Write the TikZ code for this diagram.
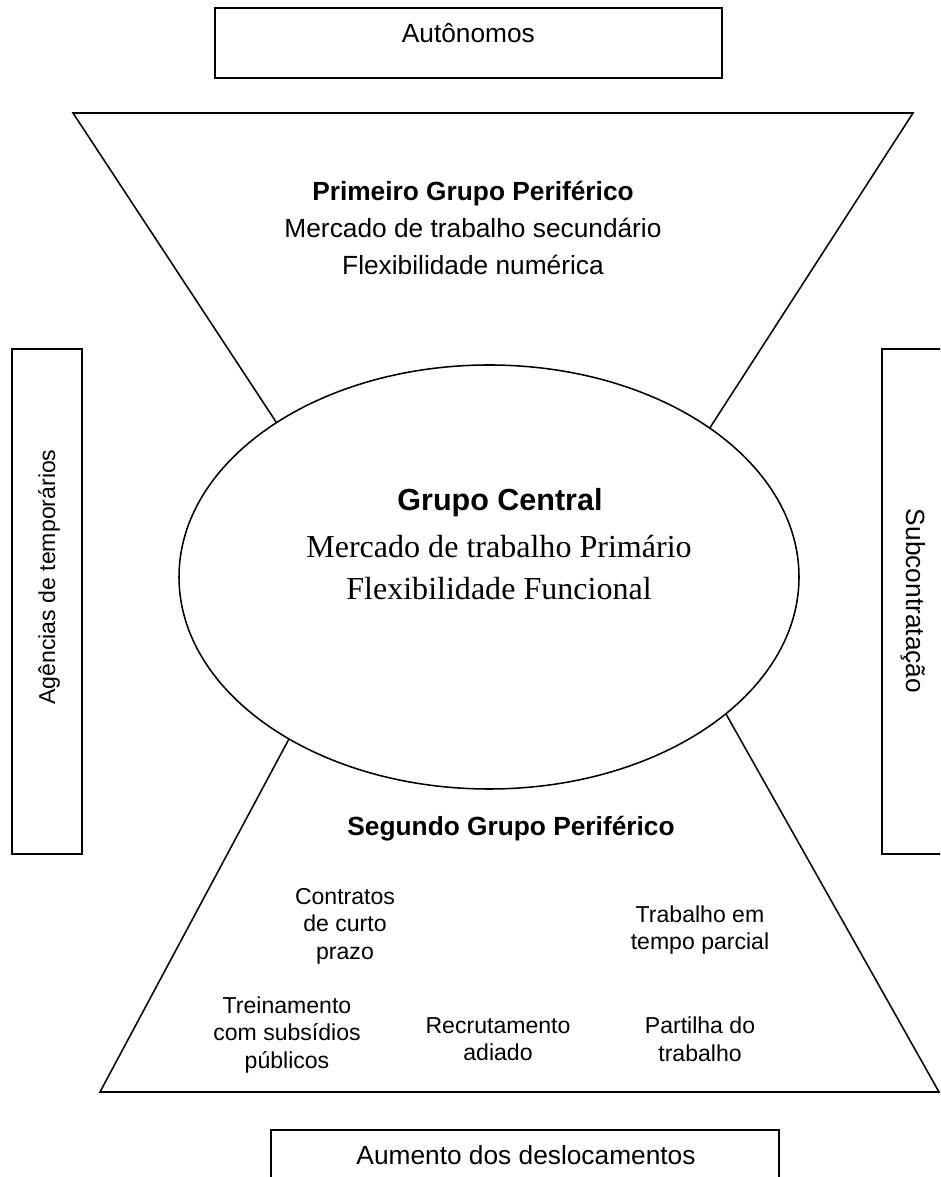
\documentclass[tikz,border=0pt]{standalone}
\usepackage{fontspec}
\setmainfont{Liberation Sans}
\newfontfamily\timesfont{Liberation Serif}
\usepackage{tikz}
\usetikzlibrary{shapes.geometric, positioning}
\tikzset{
  framebox/.style={rectangle, draw=black, line width=1.4pt},
  edge/.style={draw=black, line width=1.1pt},
  bigtext/.style={font=\fontsize{18.7}{26}\selectfont, align=center},
  smalltext/.style={font=\fontsize{16.4}{19.6}\selectfont, align=center},
  coretext/.style={font=\fontsize{22.8}{27}\selectfont\timesfont, align=center}
}

\begin{document}
\begin{tikzpicture}
  \path[use as bounding box, clip] (0, 0) rectangle (23.5, 29.425);

  % Outer boxes
  \draw[framebox] (5.375, 27.475) rectangle (18.05, 29.225);
  \node[bigtext, anchor=base] (auto) at (11.71, 28.35) {Autônomos};

  \draw[framebox] (0.3, 8.075) rectangle (2.05, 20.7);
  \node[smalltext, rotate=90] (agen) at (1.225, 15.0) {Agências de temporários};

  \draw[framebox] (22.05, 8.075) rectangle (24.0, 20.7);
  \node[bigtext, rotate=-90] (subc) at (22.825, 14.4) {Subcontratação};

  \draw[framebox] (6.775, -1.0) rectangle (19.475, 1.175);
  \node[bigtext] (desl) at (13.15, 0.55) {Aumento dos deslocamentos};

  % Central group
  \node[ellipse, draw, line width=1.1pt, inner sep=0pt, outer sep=0pt,
        minimum width=15.5cm, minimum height=10.6cm] (core) at (12.225, 15.0) {};
  \node[font=\fontsize{21.7}{26}\selectfont\bfseries] (central) at (12.5, 16.85) {Grupo Central};
  \node[coretext] (primario) at (12.475, 15.75) {Mercado de trabalho Primário};
  \node[coretext] (funcional) at (12.475, 14.7) {Flexibilidade Funcional};

  % First peripheral group (upper funnel)
  \coordinate (tl) at (1.825, 26.6);
  \coordinate (tr) at (22.825, 26.6);
  \draw[edge] (core.144.6) -- (tl) -- (tr) -- (core.34);
  \node[bigtext] (prim) at (11.825, 23.725)
    {\textbf{Primeiro Grupo Periférico}\\Mercado de trabalho secundário\\Flexibilidade numérica};

  % Second peripheral group (lower funnel)
  \coordinate (bl) at (2.5, 2.125);
  \coordinate (br) at (23.475, 2.125);
  \draw[edge] (core.219.9) -- (bl) -- (br) -- (core.330.7);
  \node[bigtext, font=\fontsize{18.7}{26}\selectfont\bfseries] (segu) at (12.775, 8.7) {Segundo Grupo Periférico};

  \node[smalltext] (curto) at (8.625, 6.275) {Contratos\\de curto\\prazo};
  \node[smalltext] (parc) at (17.5, 6.175) {Trabalho em\\tempo parcial};
  \node[smalltext] (trei) at (7.175, 3.55) {Treinamento\\com subsídios\\públicos};
  \node[smalltext] (recr) at (12.45, 3.45) {Recrutamento\\adiado};
  \node[smalltext] (part) at (17.5, 3.45) {Partilha do\\trabalho};
\end{tikzpicture}
\end{document}
